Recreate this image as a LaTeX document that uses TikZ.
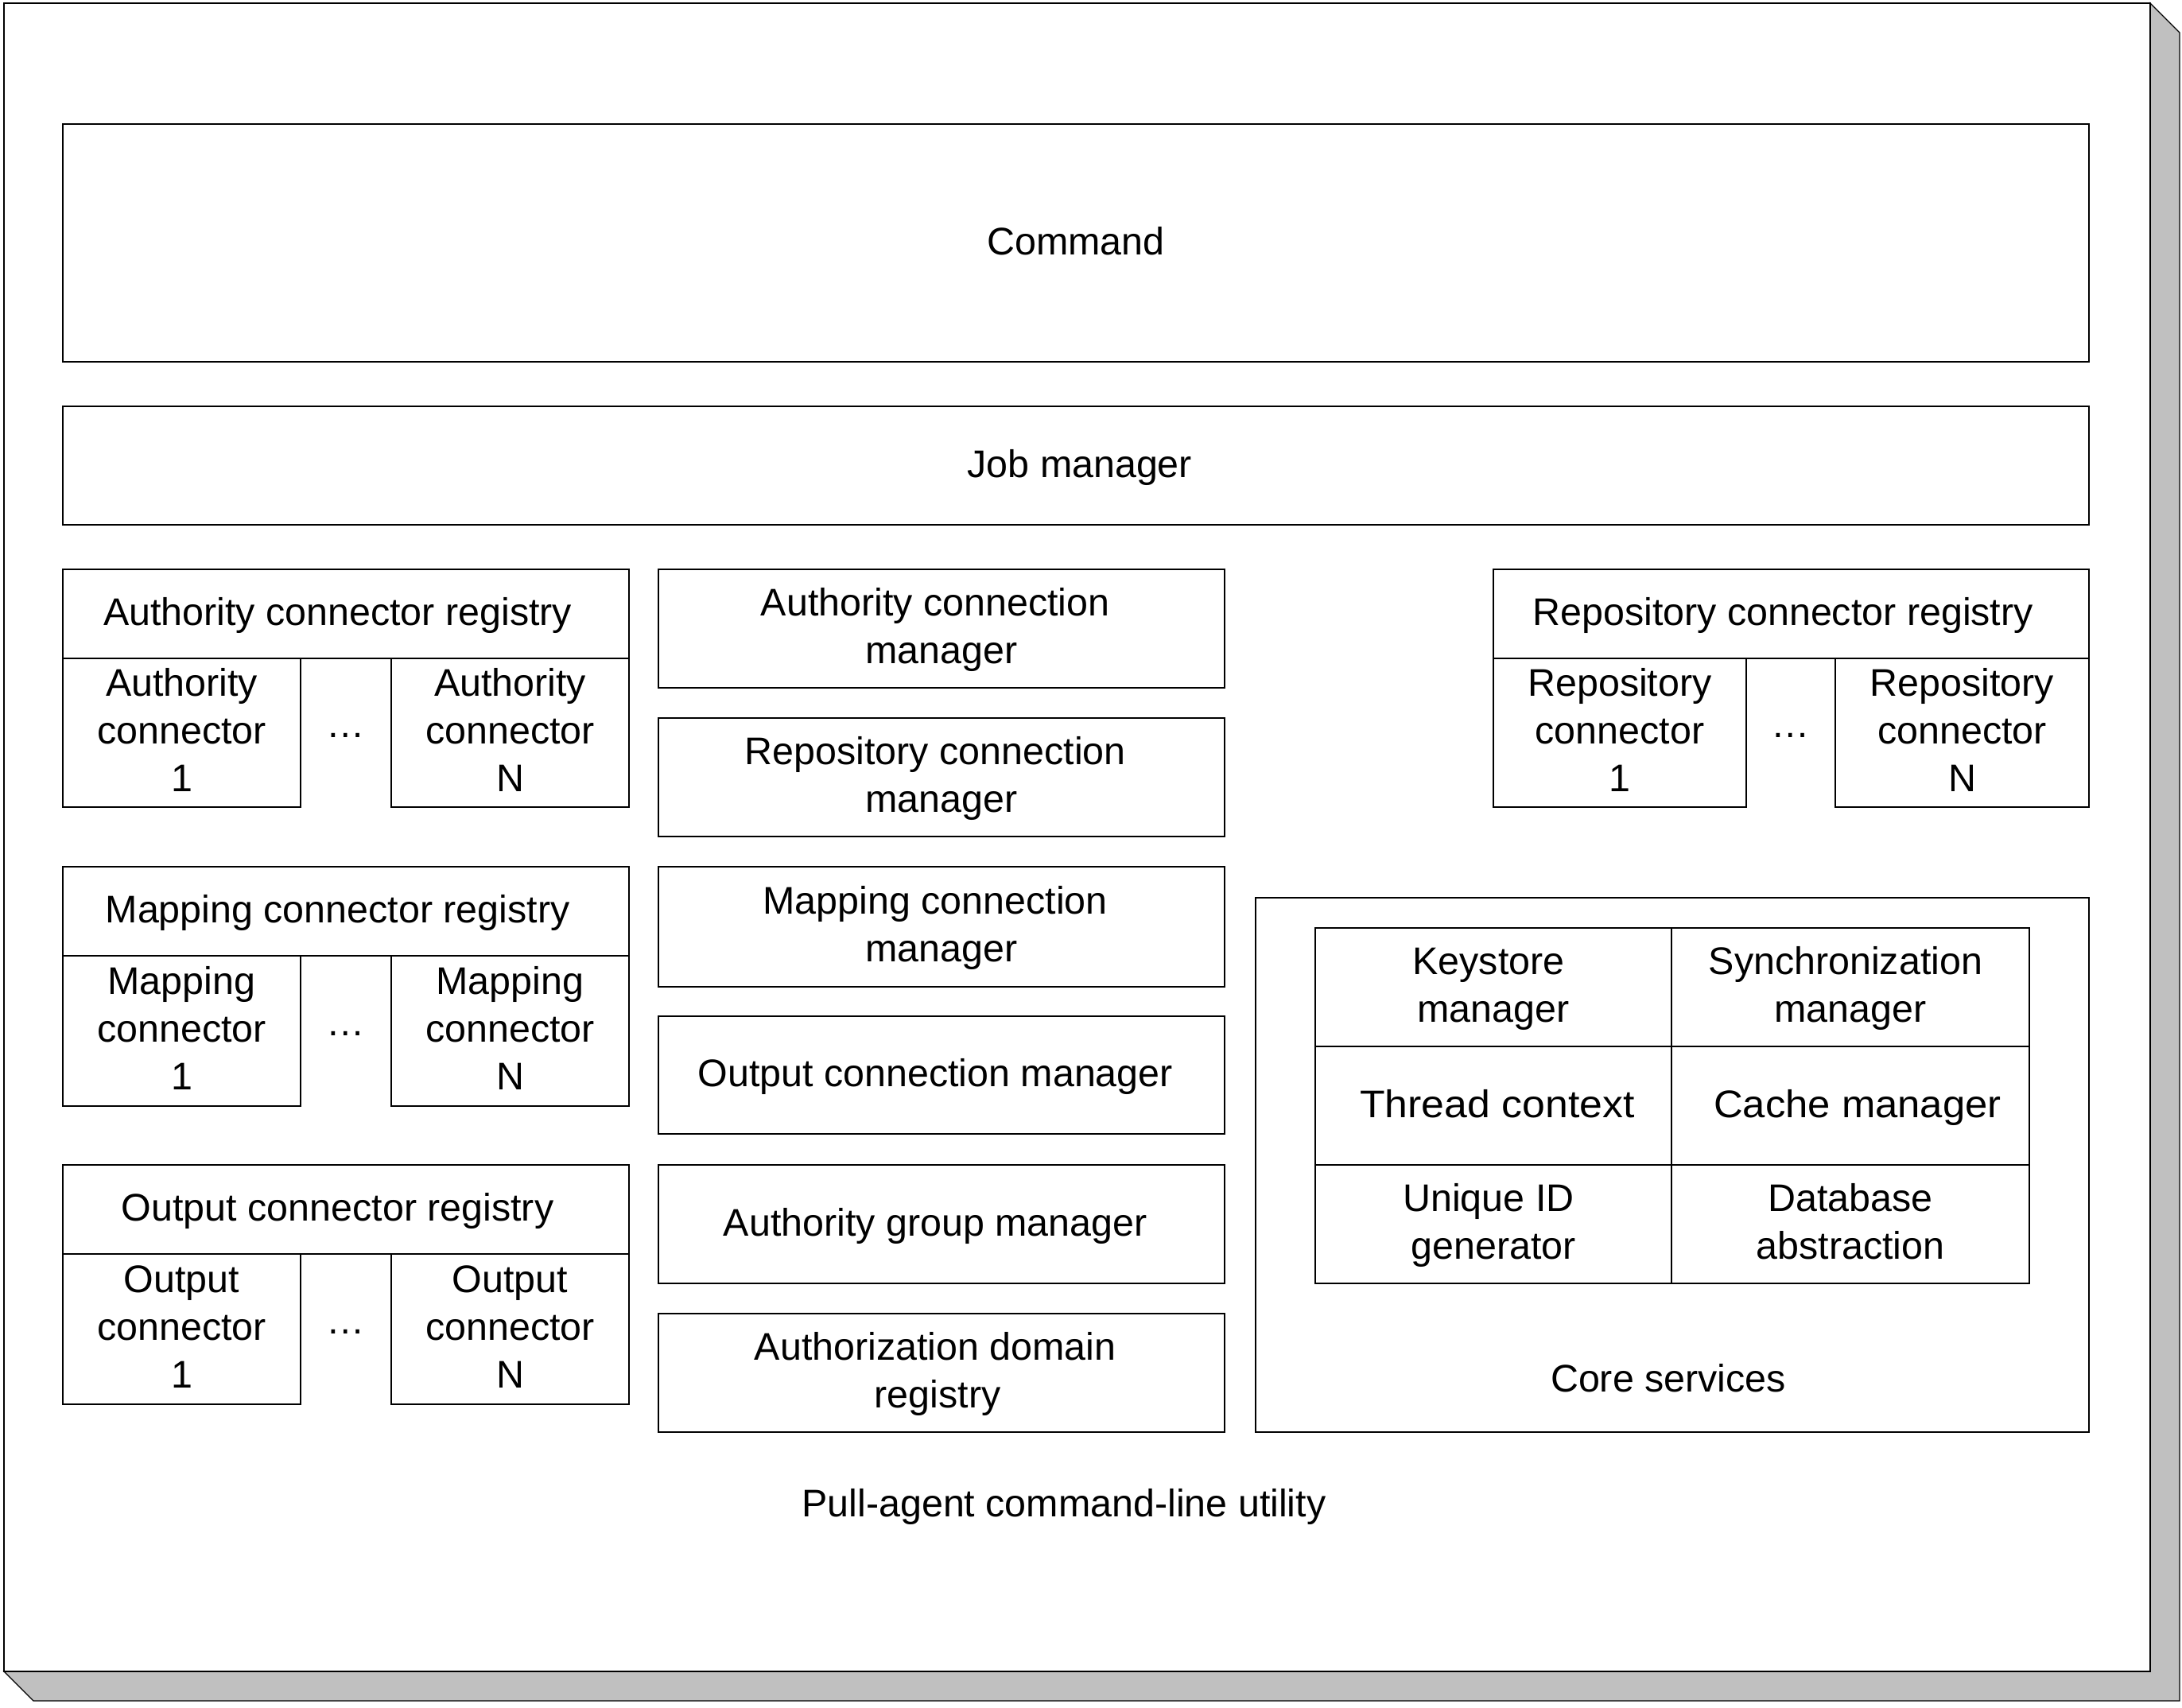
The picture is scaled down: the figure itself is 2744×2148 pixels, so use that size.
\documentclass[tikz,border=0pt]{standalone}
\usepackage{fontspec}
\usepackage{graphicx}
\setmainfont{Liberation Sans}
\newcommand\topstrut{\rule[-4.47pt]{0pt}{16.4pt}}
\newcommand\tsp[1]{\hspace*{#1em}}
\tikzset{
  box/.style={draw=black, line width=0.3pt, fill=white, inner sep=0pt, align=center,
    font=\fontsize{12.1}{14.9}\selectfont,
    execute at begin node=\topstrut, execute at end node=\strut},
  lbl/.style={inner sep=0pt, align=center, font=\fontsize{12.1}{14.9}\selectfont,
    execute at begin node=\topstrut, execute at end node=\strut},
  mlbl/.style={inner sep=0pt, align=center, font=\fontsize{12.1}{14.9}\selectfont, yshift=-0.5pt},
}
% single-line box
\newcommand\bx[6]{\node[box, minimum width={(#4-#2)*0.25pt}, minimum height={(#5-#3)*0.25pt}]
  (#1) at ({(#2+#4)/2},{(#3+#5)/2}) {#6};}
% multi-line box
\newcommand\mbx[6]{\node[box, minimum width={(#4-#2)*0.25pt}, minimum height={(#5-#3)*0.25pt},
  label={[mlbl]center:{\strut #6\strut}}]
  (#1) at ({(#2+#4)/2},{(#3+#5)/2}) {};}
\begin{document}
\begin{tikzpicture}[x=0.25pt, y=-0.25pt]
\useasboundingbox (0,0) rectangle (2744,2148);
% shadow
\coordinate (s1) at (2704,4);
\coordinate (s2) at (2741,41);
\coordinate (s3) at (2741,2139);
\coordinate (s4) at (42,2139);
\coordinate (s5) at (5,2102);
\coordinate (s6) at (2704,2102);
\draw[line width=0.3pt, fill={rgb,255:red,192;green,192;blue,192}]
  (s1) -- (s2) -- (s3) -- (s4) -- (s5) -- (s6) -- cycle;
\bx{outer}{5}{4}{2704}{2102}{}
% top
\bx{cmd}{79}{156}{2627}{455}{Command}
\bx{job}{79}{511}{2627}{660}{\tsp{0.2}Job manager}
% authority registry
\bx{areg}{79}{716}{791}{828}{Authority connector registry\tsp{0.43}}
\mbx{ac1}{79}{828}{378}{1015}{Authority\\connector\\1}
\mbx{acn}{492}{828}{791}{1015}{Authority\\connector\\N}
\node[lbl] (adots) at (435,913) {…};
% mapping registry
\bx{mreg}{79}{1090}{791}{1202}{Mapping connector registry\tsp{0.43}}
\mbx{mc1}{79}{1202}{378}{1391}{Mapping\\connector\\1}
\mbx{mcn}{492}{1202}{791}{1391}{Mapping\\connector\\N}
\node[lbl] (mdots) at (435,1288) {…};
% output registry
\bx{oreg}{79}{1465}{791}{1577}{Output connector registry\tsp{0.43}}
\mbx{oc1}{79}{1577}{378}{1766}{Output\\connector\\1}
\mbx{ocn}{492}{1577}{791}{1766}{Output\\connector\\N}
\node[lbl] (odots) at (435,1663) {…};
% middle column
\mbx{acm}{828}{716}{1540}{865}{Authority connection\tsp{0.32}\\manager}
\mbx{rcm}{828}{903}{1540}{1052}{Repository connection\tsp{0.32}\\manager}
\mbx{mcm}{828}{1090}{1540}{1241}{Mapping connection\tsp{0.32}\\manager}
\bx{ocm}{828}{1278}{1540}{1426}{Output connection manager\tsp{0.32}}
\bx{agm}{828}{1465}{1540}{1614}{Authority group manager\tsp{0.32}}
\mbx{adr}{828}{1652}{1540}{1801}{Authorization domain\tsp{0.32}\\registry\tsp{0.2}}
% repository registry
\bx{rreg}{1878}{716}{2627}{828}{Repository connector registry\tsp{0.43}}
\mbx{rc1}{1878}{828}{2196}{1015}{Repository\\connector\\1}
\mbx{rcn}{2308}{828}{2627}{1015}{Repository\\connector\\N}
\node[lbl] (rdots) at (2252,913) {…};
% core services
\bx{core}{1579}{1129}{2627}{1801}{}
\mbx{ks}{1654}{1167}{2102}{1316}{Keystore\tsp{0.25}\\manager}
\mbx{sync}{2102}{1167}{2552}{1316}{Synchronization\tsp{0.25}\\manager}
\bx{tc}{1654}{1316}{2102}{1465}{\tsp{0.2}\scalebox{1.07}[1]{Thread context}}
\bx{cache}{2102}{1316}{2552}{1465}{\tsp{0.37}\scalebox{1.05}[1]{Cache manager}}
\mbx{uid}{1654}{1465}{2102}{1614}{Unique ID\tsp{0.25}\\generator}
\mbx{db}{2102}{1465}{2552}{1614}{Database\\abstraction}
\node[lbl] (corelbl) at (2098,1736) {Core services};
\node[lbl] (outerlbl) at (1338,1893) {Pull-agent command-line utility};
\end{tikzpicture}
\end{document}
